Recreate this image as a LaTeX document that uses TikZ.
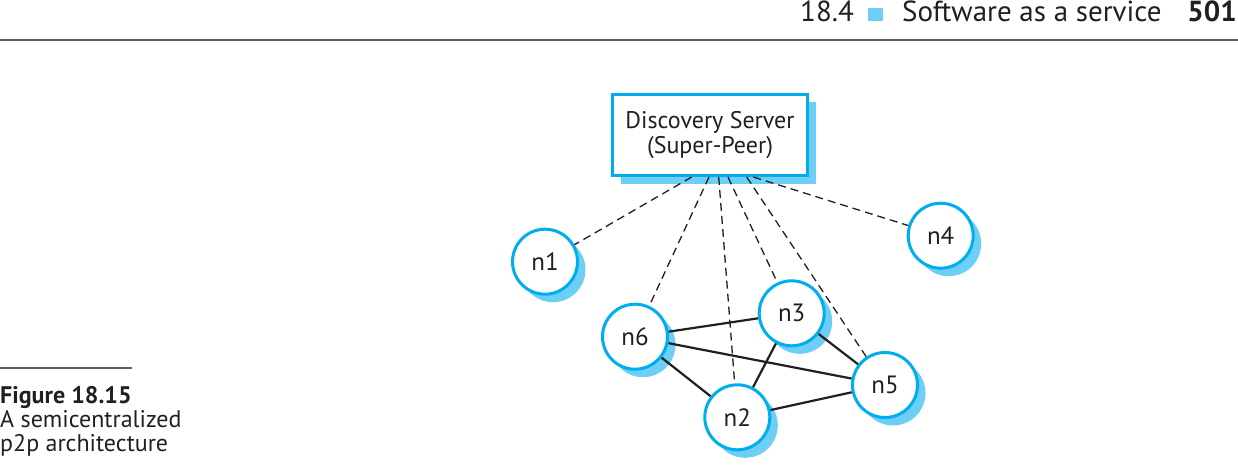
\documentclass[tikz,border=0pt]{standalone}
\usepackage{fontspec}
\setmainfont{PT Sans}
\usetikzlibrary{shadows}
\definecolor{cyanb}{HTML}{00AEEF}
\definecolor{shadowb}{HTML}{6DCFF6}
\definecolor{rulegray}{HTML}{5F5F5F}
\definecolor{txt}{HTML}{231F20}
\tikzset{
  peer/.style={circle, draw=cyanb, line width=3pt, fill=white, minimum size=65pt, inner sep=0pt,
    font=\fontsize{25}{27}\selectfont, text=txt,
    drop shadow={shadow xshift=8pt, shadow yshift=-8pt, fill=shadowb, opacity=1}},
  serverbox/.style={rectangle, draw=cyanb, line width=3pt, fill=white, minimum width=195pt, minimum height=81pt,
    inner sep=0pt, align=center, font=\fontsize{24}{25}\selectfont, text=txt,
    drop shadow={shadow xshift=8pt, shadow yshift=-8pt, fill=shadowb, opacity=1}},
  dashlink/.style={draw=txt, line width=1.3pt, dash pattern=on 8pt off 5pt},
  solidlink/.style={draw=txt, line width=2.2pt},
  hdr/.style={font=\fontsize{29}{30}\selectfont, text=txt, inner sep=0pt},
  captext/.style={font=\fontsize{24}{24}\selectfont, text=txt, inner sep=0pt, anchor=base west}
}
\begin{document}
\begin{tikzpicture}[x=1pt,y=-1pt]
\useasboundingbox (0,0) rectangle (1238,468);
% header
\node[hdr, anchor=base west] (h1) at (800,22) {18.4};
\fill[shadowb] (868,8) rectangle (883,21);
\node[hdr, anchor=base west] (h2) at (902,22) {Software as a service};
\node[hdr, anchor=base east, font=\fontsize{29}{30}\selectfont\bfseries] (h3) at (1237,22) {501};
\draw[rulegray, line width=2pt] (0,40) -- (1238,40);
% caption
\draw[rulegray, line width=1.5pt] (0,368) -- (132,368);
\node[captext, font=\fontsize{24}{24}\selectfont\bfseries] (c1) at (0,403) {Figure 18.15};
\node[captext] (c2) at (0,427.5) {A semicentralized};
\node[captext] (c3) at (0,451.5) {p2p architecture};
% server
\node[serverbox] (srv) at (710,135) {Discovery Server\\(Super-Peer)};
\coordinate (s1) at (691.7,177);
\coordinate (s6) at (709,177);
\coordinate (s2) at (718.7,177);
\coordinate (s3) at (728,177);
\coordinate (s5) at (746.7,177);
\coordinate (s4) at (753.3,177);
% peers
\node[peer] (n1) at (545,261.7) {n1};
\node[peer] (n4) at (940.7,235.7) {n4};
\node[peer] (n6) at (635,336.7) {n6};
\node[peer] (n3) at (791.7,313.3) {n3};
\node[peer] (n5) at (885,385) {n5};
\node[peer] (n2) at (737.3,417.3) {n2};
% links
\draw[dashlink] (s1) -- (n1);
\draw[dashlink] (s6) -- (n6);
\draw[dashlink] (s2) -- (n2);
\draw[dashlink] (s3) -- (n3);
\draw[dashlink] (s5) -- (n5);
\draw[dashlink] (s4) -- (n4);
\draw[solidlink] (n6) -- (n3);
\draw[solidlink] (n6) -- (n5);
\draw[solidlink] (n6) -- (n2);
\draw[solidlink] (n3) -- (n2);
\draw[solidlink] (n3) -- (n5);
\draw[solidlink] (n2) -- (n5);
\end{tikzpicture}
\end{document}
